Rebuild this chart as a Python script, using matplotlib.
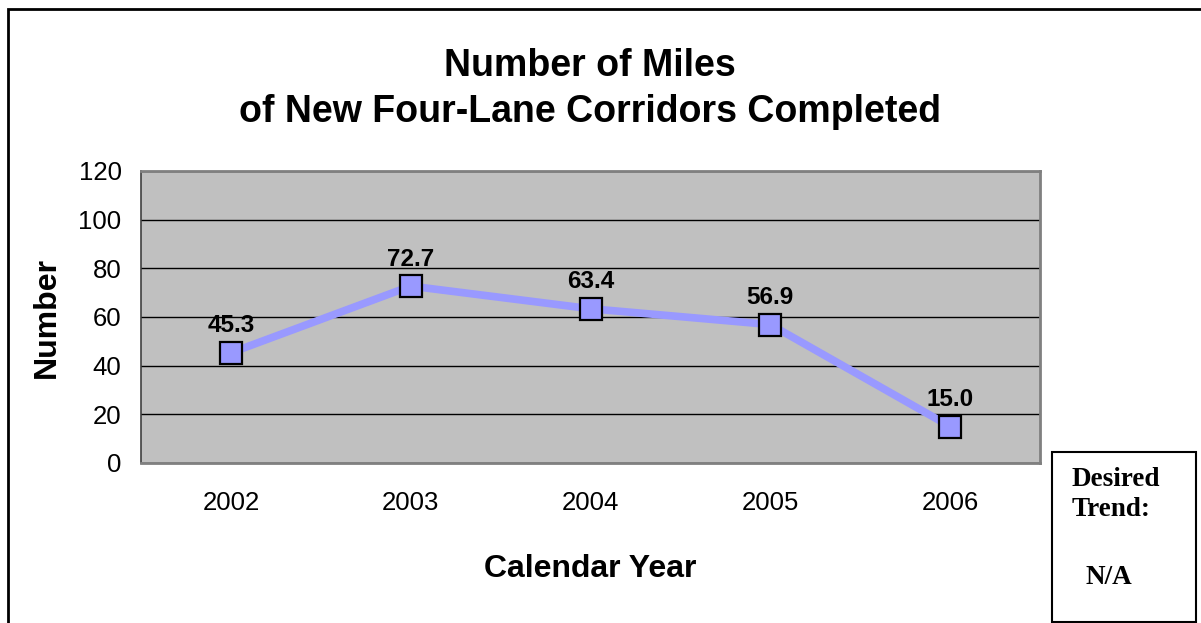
import matplotlib.pyplot as plt
from matplotlib.patches import Rectangle

years = ['2002', '2003', '2004', '2005', '2006']
miles = [45.3, 72.7, 63.4, 56.9, 15.0]
yticks = [0, 20, 40, 60, 80, 100, 120]

W, H = 1201, 623
fig = plt.figure(figsize=(W / 100, H / 100), dpi=100)
plt.rcParams['font.family'] = ['Liberation Sans', 'DejaVu Sans']

# outer frame (runs off the right and bottom edges)
fig.patches.append(Rectangle((8 / W, -0.05), 1.2, (H - 9) / H + 0.05,
                             transform=fig.transFigure, fill=False,
                             edgecolor='black', linewidth=2))

ax = fig.add_axes([141 / W, 1 - 463 / H, 899 / W, 292 / H])
ax.set_facecolor('#c0c0c0')
x = range(len(years))
ax.plot(x, miles, color='#9999ff', linewidth=5.5, zorder=3,
        marker='s', markersize=16, markerfacecolor='#9999ff',
        markeredgecolor='black', markeredgewidth=1.6)
for xi, v in zip(x, miles):
    ax.annotate(f'{v:.1f}', (xi, v), xytext=(0, 11), textcoords='offset points',
                ha='center', va='bottom', fontsize=17.5, fontweight='bold')

ax.set_xlim(-0.5, len(years) - 0.5)
ax.set_ylim(0, 120)
ax.set_yticks(yticks)
ax.set_xticks(list(x))
ax.set_xticklabels(years)
ax.tick_params(axis='both', labelsize=18.5, length=0)
ax.tick_params(axis='x', pad=20)
ax.tick_params(axis='y', pad=14)
ax.yaxis.grid(True, color='black', linewidth=1)
ax.set_axisbelow(True)
for s in ['top', 'right', 'bottom']:
    ax.spines[s].set_color('#808080')
    ax.spines[s].set_linewidth(2)
ax.spines['left'].set_color('#404040')
ax.spines['left'].set_linewidth(1.2)

ax.set_xlabel('Calendar Year', fontsize=23, fontweight='bold', labelpad=28)
ax.set_ylabel('Number', fontsize=23, fontweight='bold', labelpad=12)

fig.text(590 / W, 1 - 66 / H, 'Number of Miles', ha='center', va='center',
         fontsize=27, fontweight='bold')
fig.text(590 / W, 1 - 112 / H, 'of New Four-Lane Corridors Completed',
         ha='center', va='center', fontsize=27, fontweight='bold')

# desired trend box
fig.patches.append(Rectangle((1052 / W, 1 - 622 / H), 144 / W, 170 / H,
                             transform=fig.transFigure, fill=False,
                             edgecolor='black', linewidth=1.5))
serif = dict(ha='left', va='center', fontsize=19.5, fontweight='bold',
             family='Liberation Serif')
fig.text(1072 / W, 1 - 480 / H, 'Desired', **serif)
fig.text(1072 / W, 1 - 510 / H, 'Trend:', **serif)
fig.text(1086 / W, 1 - 578 / H, 'N/A', **serif)

fig.savefig('out.png', dpi=100)
